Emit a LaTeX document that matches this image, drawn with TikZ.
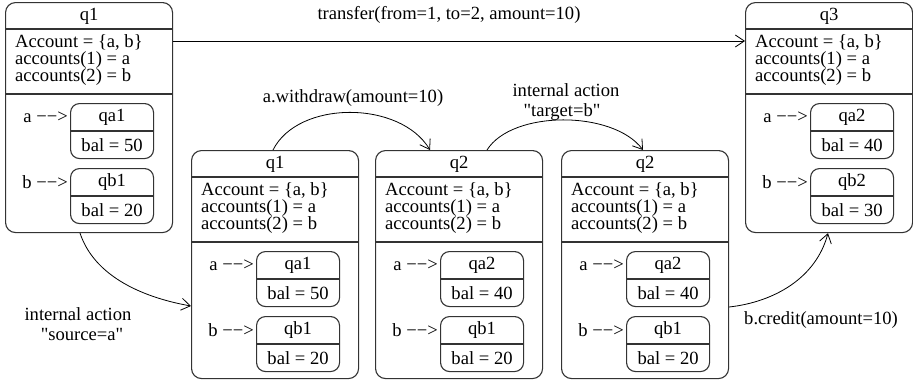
\documentclass[tikz,border=0pt]{standalone}
\usepackage{fontspec}
\setmainfont{Liberation Serif}[Ligatures=TeXOff]
\usetikzlibrary{arrows.meta,calc}

\tikzset{
  txt/.style={inner sep=0pt, font=\fontsize{18.6}{19}\selectfont, text=black},
  outer/.style={draw=black!80, line width=1.1pt, rounded corners=10pt,
                minimum width=167pt, inner sep=0pt},
  innerbox/.style={draw=black!80, line width=1.1pt, rounded corners=9pt,
                   minimum width=83pt, minimum height=55pt, anchor=north west, inner sep=0pt},
  divider/.style={draw=black!80, line width=1.1pt},
  link/.style={draw=black, line width=0.8pt,
               -{Straight Barb[length=9pt, width=12pt, line width=0.8pt]}},
}

% One composite state: #1 name, #2 left, #3 top, #4 height, #5 title,
% #6/#7 inner state of a and its balance, #8/#9 inner state of b and its balance
\newcommand\statebox[9]{%
  \node[outer, minimum height=#4, anchor=north west] (#1) at (#2,#3) {};
  \draw[divider] ([yshift=-27pt]#1.north west) -- ([yshift=-27pt]#1.north east);
  \draw[divider] ([yshift=-92pt]#1.north west) -- ([yshift=-92pt]#1.north east);
  \node[txt] (#1-t) at ([yshift=-14pt]#1.north) {#5};
  \node[txt, anchor=base west] (#1-l1) at ([xshift=10pt,yshift=-45pt]#1.north west) {Account = \{a, b\}};
  \node[txt, anchor=base west] (#1-l2) at ([xshift=10pt,yshift=-62pt]#1.north west) {accounts(1) = a};
  \node[txt, anchor=base west] (#1-l3) at ([xshift=10pt,yshift=-79pt]#1.north west) {accounts(2) = b};
  % inner state of account a
  \node[innerbox] (#1-a) at ([xshift=65pt,yshift=-101pt]#1.north west) {};
  \draw[divider] ([yshift=-28pt]#1-a.north west) -- ([yshift=-28pt]#1-a.north east);
  \node[txt] (#1-at) at ([yshift=-14pt]#1-a.north) {#6};
  \node[txt] (#1-ab) at ([yshift=13.5pt]#1-a.south) {bal = #7};
  \node[txt, anchor=east] (#1-ap) at ([xshift=-2pt,yshift=-14pt]#1-a.north west) {a −−>};
  % inner state of account b
  \node[innerbox] (#1-b) at ([xshift=65pt,yshift=-166pt]#1.north west) {};
  \draw[divider] ([yshift=-28pt]#1-b.north west) -- ([yshift=-28pt]#1-b.north east);
  \node[txt] (#1-bt) at ([yshift=-14pt]#1-b.north) {#8};
  \node[txt] (#1-bb) at ([yshift=13.5pt]#1-b.south) {bal = #9};
  \node[txt, anchor=east] (#1-bp) at ([xshift=-2pt,yshift=-14pt]#1-b.north west) {b −−>};
}

\begin{document}
\begin{tikzpicture}[x=1pt, y=-1pt]
  \useasboundingbox (0,0) rectangle (913,384);

  \statebox{s1}{5}{2}{230pt}{q1}{qa1}{50}{qb1}{20}
  \statebox{s2}{191}{150}{228pt}{q1}{qa1}{50}{qb1}{20}
  \statebox{s3}{375}{150}{228pt}{q2}{qa2}{40}{qb1}{20}
  \statebox{s4}{561}{150}{228pt}{q2}{qa2}{40}{qb1}{20}
  \statebox{s5}{745}{2}{230pt}{q3}{qa2}{40}{qb2}{30}

  % transitions
  \draw[link] ([yshift=-39pt]s1.north east) -- ([yshift=-39pt]s5.north west);
  \node[txt] (lbl-transfer) at (449,15) {transfer(from=1, to=2, amount=10)};

  \draw[link] ([xshift=75pt]s1.south west)
     .. controls +(15,45) and +(-45,-8) .. ([yshift=-156pt]s2.north west);
  \node[txt, align=center] (lbl-source) at (78,324) {internal action\\[1pt]\hspace*{8pt}"source=a"};

  \draw[link] ([xshift=82pt]s2.north west)
     .. controls +(25,-50) and +(-30,-50) .. ([xshift=55pt]s3.north west);
  \node[txt] (lbl-withdraw) at (353,98) {a.withdraw(amount=10)};

  \draw[link] ([xshift=112pt]s3.north west)
     .. controls +(25,-40) and +(-30,-40) .. ([xshift=82pt]s4.north west);
  \node[txt, align=center] (lbl-target) at (566,102) {internal action\\[1pt]"target=b"\hspace*{8pt}};

  \draw[link] ([yshift=-157pt]s4.north east)
     .. controls +(45,-5) and +(-12,45) .. ([xshift=83pt]s5.south west);
  \node[txt] (lbl-credit) at (821,320) {b.credit(amount=10)};
\end{tikzpicture}
\end{document}
